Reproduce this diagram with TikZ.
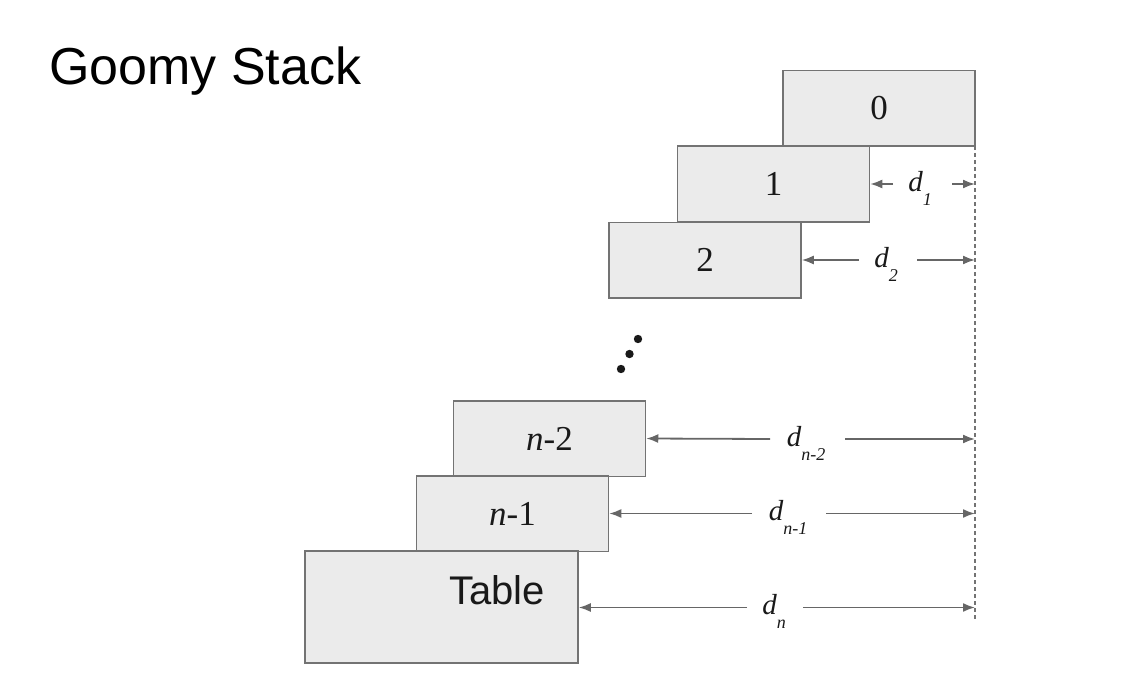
\documentclass[tikz,border=0pt]{standalone}
\usepackage{fontspec}
\setmainfont{Liberation Serif}
\newfontfamily\arialfont{Liberation Sans}
\usetikzlibrary{arrows.meta}
\tikzset{
  blockbox/.style={draw=black!55, fill=black!8, line width=1.5pt, minimum width=192pt, minimum height=75.5pt, inner sep=0pt,
    font=\fontsize{35}{35}\selectfont, text=black!90},
  dimarr/.style={draw=black!60, line width=1.8pt, -{Latex[length=12pt,width=9pt]}},
  dimlbl/.style={font=\fontsize{29}{29}\selectfont\itshape, inner sep=0pt, anchor=base, text=black!90},
  dashln/.style={draw=black!55, line width=1.1pt, dash pattern=on 4pt off 3pt}
}
\newcommand{\dsub}[1]{d\raisebox{-14pt}{\fontsize{18}{18}\selectfont\itshape #1}}
\begin{document}
\begin{tikzpicture}[x=1pt,y=-1pt]
\useasboundingbox (0,0) rectangle (1130,682);
% title
\node[font=\arialfont\fontsize{52}{52}\selectfont, anchor=base west, inner sep=0pt] (title) at (49,85) {Goomy Stack};
% blocks
\node[blockbox] (b0) at (879,108.5) {0};
\node[blockbox] (b1) at (773.5,184) {1};
\node[blockbox] (b2) at (705,260) {2};
\node[blockbox] (bn2) at (549.5,438.5) {\textit{n}-2};
\node[blockbox] (bn1) at (512.5,513.5) {\textit{n}-1};
\node[blockbox, minimum width=273pt, minimum height=112pt] (tbl) at (441.5,607) {};
\node[font=\arialfont\fontsize{40}{40}\selectfont, inner sep=0pt, text=black!90] (tbltxt) at (497,590) {Table};
% dashed reference line
\coordinate (dtop) at (975,146);
\coordinate (dbot) at (975,620);
\draw[dashln] (dtop) -- (dbot);
% dots
\fill[black!90] (638,339) circle (4.2pt);
\fill[black!90] (629.5,354) circle (4.2pt);
\fill[black!90] (621,369) circle (4.2pt);
% d1
\coordinate (g1l) at (893,184); \coordinate (g1r) at (952,184);
\draw[dimarr] (g1l) -- (b1.east);
\draw[dimarr] (g1r) -- (g1r -| dtop);
\node[dimlbl] (l1) at (920,191) {\dsub{1}};
% d2
\coordinate (g2l) at (859,260); \coordinate (g2r) at (917,260);
\draw[dimarr] (g2l) -- (b2.east);
\draw[dimarr] (g2r) -- (g2r -| dtop);
\node[dimlbl] (l2) at (886,267) {\dsub{2}};
% dn-2
\coordinate (g3l) at (770,439); \coordinate (g3r) at (845,439);
\draw[dimarr] (g3l) -- (bn2.east);
\draw[dimarr] (g3r) -- (g3r -| dtop);
\node[dimlbl] (l3) at (806,446) {\dsub{n-2}};
% dn-1
\coordinate (g4l) at (752,513.5); \coordinate (g4r) at (826,513.5);
\draw[dimarr] (g4l) -- (bn1.east);
\draw[dimarr] (g4r) -- (g4r -| dtop);
\node[dimlbl] (l4) at (788,520) {\dsub{n-1}};
% dn
\coordinate (g5l) at (747,607.5); \coordinate (g5r) at (803,607.5);
\draw[dimarr] (g5l) -- (tbl.east |- g5l);
\draw[dimarr] (g5r) -- (g5r -| dtop);
\node[dimlbl] (l5) at (774,614) {\dsub{n}};
\end{tikzpicture}
\end{document}
